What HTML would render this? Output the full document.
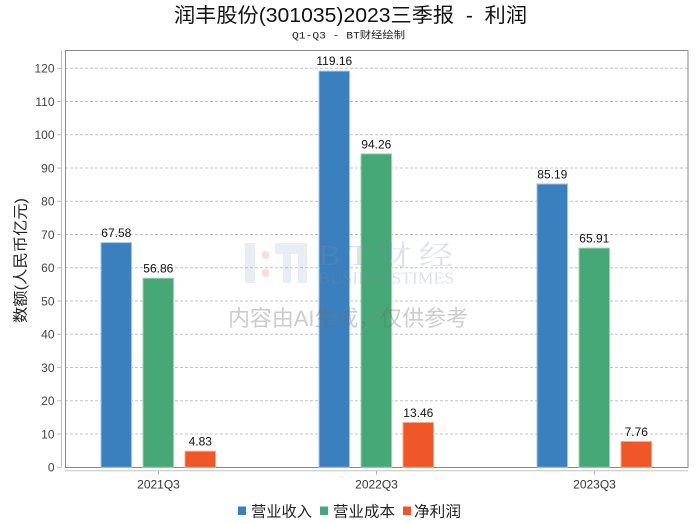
<!DOCTYPE html>
<html><head><meta charset="utf-8"><style>
html,body{margin:0;padding:0;background:#fff;}
svg{display:block;}
</style></head><body>
<svg width="700" height="524" viewBox="0 0 700 524" xmlns="http://www.w3.org/2000/svg">
<rect width="700" height="524" fill="#fff"/>
<!-- title -->
<text x="174" y="22" font-family="'Liberation Sans','Noto Sans CJK SC',sans-serif" font-size="20" fill="#111" textLength="353" lengthAdjust="spacingAndGlyphs" xml:space="preserve">润丰股份(301035)2023三季报  -  利润</text>
<text x="292" y="38.5" font-family="'Liberation Mono','Noto Sans CJK SC',monospace" font-size="10" fill="#222" textLength="113" lengthAdjust="spacingAndGlyphs">Q1-Q3 - BT财经绘制</text>

<!-- gridlines -->
<g stroke="#c4c4c4" stroke-width="1" stroke-dasharray="3,2">
<line x1="65" x2="688" y1="434.05" y2="434.05"/>
<line x1="65" x2="688" y1="400.8" y2="400.8"/>
<line x1="65" x2="688" y1="367.55" y2="367.55"/>
<line x1="65" x2="688" y1="334.3" y2="334.3"/>
<line x1="65" x2="688" y1="301.05" y2="301.05"/>
<line x1="65" x2="688" y1="267.8" y2="267.8"/>
<line x1="65" x2="688" y1="234.55" y2="234.55"/>
<line x1="65" x2="688" y1="201.3" y2="201.3"/>
<line x1="65" x2="688" y1="168.05" y2="168.05"/>
<line x1="65" x2="688" y1="134.8" y2="134.8"/>
<line x1="65" x2="688" y1="101.55" y2="101.55"/>
<line x1="65" x2="688" y1="68.3" y2="68.3"/>
</g>

<!-- plot frame -->
<rect x="65.5" y="50.5" width="622.5" height="417" fill="none" stroke="#8a8a8a" stroke-width="1"/>

<!-- y axis -->
<line x1="61.5" y1="51" x2="61.5" y2="467.5" stroke="#bdbdbd" stroke-width="1"/>
<g stroke="#bdbdbd" stroke-width="1">
<line x1="57" x2="61" y1="467.3" y2="467.3"/>
<line x1="57" x2="61" y1="434.05" y2="434.05"/>
<line x1="57" x2="61" y1="400.8" y2="400.8"/>
<line x1="57" x2="61" y1="367.55" y2="367.55"/>
<line x1="57" x2="61" y1="334.3" y2="334.3"/>
<line x1="57" x2="61" y1="301.05" y2="301.05"/>
<line x1="57" x2="61" y1="267.8" y2="267.8"/>
<line x1="57" x2="61" y1="234.55" y2="234.55"/>
<line x1="57" x2="61" y1="201.3" y2="201.3"/>
<line x1="57" x2="61" y1="168.05" y2="168.05"/>
<line x1="57" x2="61" y1="134.8" y2="134.8"/>
<line x1="57" x2="61" y1="101.55" y2="101.55"/>
<line x1="57" x2="61" y1="68.3" y2="68.3"/>
</g>
<g font-family="'Liberation Sans',sans-serif" font-size="12" fill="#444" text-anchor="end">
<text x="54.5" y="471.5">0</text>
<text x="54.5" y="438.3">10</text>
<text x="54.5" y="405">20</text>
<text x="54.5" y="371.8">30</text>
<text x="54.5" y="338.5">40</text>
<text x="54.5" y="305.3">50</text>
<text x="54.5" y="272">60</text>
<text x="54.5" y="238.8">70</text>
<text x="54.5" y="205.5">80</text>
<text x="54.5" y="172.3">90</text>
<text x="54.5" y="139">100</text>
<text x="54.5" y="105.8">110</text>
<text x="54.5" y="72.5">120</text>
</g>
<text transform="translate(25.5,260.5) rotate(-90)" x="-62.5" y="0" font-family="'Liberation Sans','Noto Sans CJK SC',sans-serif" font-size="15" fill="#222" textLength="125" lengthAdjust="spacingAndGlyphs">数额(人民币亿元)</text>

<!-- x axis -->
<line x1="65" y1="470.8" x2="688" y2="470.8" stroke="#c4c4c4" stroke-width="1"/>
<g stroke="#b5b5b5" stroke-width="1">
<line x1="158.5" x2="158.5" y1="471" y2="475"/>
<line x1="376.5" x2="376.5" y1="471" y2="475"/>
<line x1="594.5" x2="594.5" y1="471" y2="475"/>
</g>
<g font-family="'Liberation Sans',sans-serif" font-size="12" fill="#333" text-anchor="middle">
<text x="158.5" y="488.5">2021Q3</text>
<text x="376.5" y="488.5">2022Q3</text>
<text x="594.5" y="488.5">2023Q3</text>
</g>

<!-- bars -->
<g stroke-width="1">
<rect x="101" y="242.6" width="30.5" height="224.7" fill="#3a80bf" stroke="#9cc6ea"/>
<rect x="143" y="278.2" width="30.5" height="189.1" fill="#46a876" stroke="#9bd3b4"/>
<rect x="185" y="451.2" width="30.5" height="16.1" fill="#ef5628" stroke="#f7a88c"/>

<rect x="319" y="71.1" width="30.5" height="396.2" fill="#3a80bf" stroke="#9cc6ea"/>
<rect x="361" y="153.9" width="30.5" height="313.4" fill="#46a876" stroke="#9bd3b4"/>
<rect x="403" y="422.5" width="30.5" height="44.8" fill="#ef5628" stroke="#f7a88c"/>

<rect x="537" y="184" width="30.5" height="283.3" fill="#3a80bf" stroke="#9cc6ea"/>
<rect x="579" y="248.1" width="30.5" height="219.2" fill="#46a876" stroke="#9bd3b4"/>
<rect x="621" y="441.5" width="30.5" height="25.8" fill="#ef5628" stroke="#f7a88c"/>
</g>
<g font-family="'Liberation Sans',sans-serif" font-size="12" fill="#111" text-anchor="middle">
<text x="116.3" y="237">67.58</text>
<text x="158.3" y="272.6">56.86</text>
<text x="200.3" y="445.6">4.83</text>
<text x="334.3" y="65.2">119.16</text>
<text x="376.3" y="148.3">94.26</text>
<text x="418.3" y="416.9">13.46</text>
<text x="552.3" y="178.4">85.19</text>
<text x="594.3" y="242.5">65.91</text>
<text x="636.3" y="435.9">7.76</text>
</g>

<!-- watermark -->
<g opacity="1">
<rect x="245" y="243" width="10" height="40" fill="rgba(140,165,200,0.2)"/>
<circle cx="265.5" cy="255" r="4" fill="rgba(235,120,120,0.25)"/>
<circle cx="265.5" cy="273" r="4" fill="rgba(235,120,120,0.25)"/>
<rect x="275" y="243" width="32" height="11" fill="rgba(140,165,200,0.2)"/>
<rect x="283" y="254" width="8" height="29" fill="rgba(140,165,200,0.2)"/>
<rect x="298" y="254" width="9" height="29" fill="rgba(140,165,200,0.2)"/>
<text x="318" y="265" font-family="'Liberation Serif','Noto Serif CJK SC',serif" font-size="28" fill="rgba(120,140,170,0.25)" textLength="135" lengthAdjust="spacingAndGlyphs">B T 财 经</text>
<text x="318" y="283.5" font-family="'Liberation Serif',serif" font-size="17" fill="rgba(120,140,170,0.25)" textLength="136" lengthAdjust="spacingAndGlyphs">BUSINESSTIMES</text>
<text x="228" y="326" font-family="'Liberation Sans','Noto Sans CJK SC',sans-serif" font-size="22" fill="rgba(110,110,110,0.35)" textLength="240" lengthAdjust="spacingAndGlyphs">内容由AI生成，仅供参考</text>
</g>

<!-- legend -->
<rect x="238" y="506.5" width="8" height="8.5" fill="#3a80bf"/>
<rect x="320" y="506.5" width="8" height="8.5" fill="#46a876"/>
<rect x="403" y="506.5" width="8" height="8.5" fill="#ef5628"/>
<g font-family="'Liberation Sans','Noto Sans CJK SC',sans-serif" font-size="15" fill="#222">
<text x="251" y="516.5" textLength="61" lengthAdjust="spacingAndGlyphs">营业收入</text>
<text x="333" y="516.5" textLength="62" lengthAdjust="spacingAndGlyphs">营业成本</text>
<text x="414" y="516.5" textLength="47" lengthAdjust="spacingAndGlyphs">净利润</text>
</g>
</svg>
</body></html>
